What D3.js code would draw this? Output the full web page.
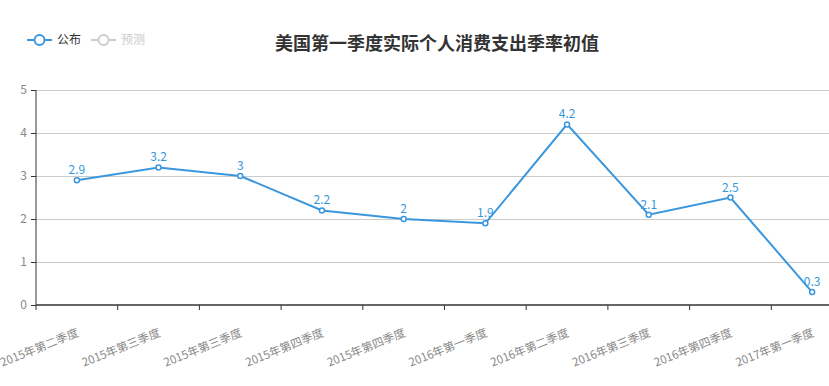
<!DOCTYPE html>
<html><head><meta charset="utf-8">
<script src="https://cdn.jsdelivr.net/npm/d3@7"></script>
<style>body{margin:0;background:#fff;overflow:hidden}svg{display:block}</style>
</head><body>
<script>
const categories = ["2015年第二季度","2015年第三季度","2015年第三季度","2015年第四季度","2015年第四季度","2016年第一季度","2016年第二季度","2016年第三季度","2016年第四季度","2017年第一季度"];
const published = [2.9, 3.2, 3, 2.2, 2, 1.9, 4.2, 2.1, 2.5, 0.3];
const yTicks = [0, 1, 2, 3, 4, 5];
const titleText = "美国第一季度实际个人消费支出季率初值";
const legendItems = ["公布", "预测"];

const W = 829, H = 386;
const font = "'Noto Sans CJK SC', 'Microsoft YaHei', sans-serif";
const blue = "#3398DB", lineBlue = "#3a97de";
const svg = d3.select("body").append("svg").attr("width", W).attr("height", H);

const x = d3.scaleBand().domain(d3.range(categories.length)).range([36, 853]);
const y = d3.scaleLinear().domain([0, 5]).range([305, 90]);

// grid
svg.append("g").selectAll("line").data(yTicks.filter(d => d > 0)).join("line")
  .attr("x1", 36).attr("x2", W).attr("y1", d => y(d)).attr("y2", d => y(d))
  .attr("stroke", "#ccc").attr("stroke-width", 1).attr("shape-rendering", "crispEdges");

// y axis
const ya = svg.append("g").attr("transform", "translate(36,0)")
  .call(d3.axisLeft(y).tickValues(yTicks).tickSize(5).tickPadding(4).tickFormat(d3.format("d")));
ya.select(".domain").attr("stroke", "#333").attr("d", `M-0,${y(0)}V${y(5)}`);
ya.selectAll(".tick line").attr("stroke", "#333");
ya.selectAll("text").attr("fill", "#888").style("font-size", "12px").style("font-family", font);

// x axis
const xa = svg.append("g").attr("transform", `translate(0,${y(0)})`);
xa.append("line").attr("x1", 36).attr("x2", W).attr("y1", 0).attr("y2", 0)
  .attr("stroke", "#333").attr("stroke-width", 1.5);
xa.selectAll("line.tk").data(d3.range(categories.length)).join("line").attr("class", "tk")
  .attr("x1", d => x(d)).attr("x2", d => x(d)).attr("y1", 0).attr("y2", 5)
  .attr("stroke", "#333");
xa.selectAll("text").data(categories).join("text")
  .attr("transform", (d, i) => `translate(${x(i) + x.bandwidth() / 2 + 1},${27}) rotate(-22)`)
  .attr("text-anchor", "end").attr("dy", "0.35em")
  .attr("fill", "#888").style("font-size", "11.5px").style("font-family", font)
  .text(d => d);

// line
const line = d3.line().x((d, i) => x(i) + x.bandwidth() / 2).y(d => y(d));
svg.append("path").datum(published).attr("d", line)
  .attr("fill", "none").attr("stroke", lineBlue).attr("stroke-width", 2);
svg.append("g").selectAll("circle").data(published).join("circle")
  .attr("cx", (d, i) => x(i) + x.bandwidth() / 2).attr("cy", d => y(d)).attr("r", 2.5)
  .attr("fill", "#fff").attr("stroke", lineBlue).attr("stroke-width", 1.5);
svg.append("g").selectAll("text").data(published).join("text")
  .attr("x", (d, i) => x(i) + x.bandwidth() / 2).attr("y", d => y(d) - 6)
  .attr("text-anchor", "middle").attr("fill", blue)
  .style("font-size", "12px").style("font-family", font)
  .text(d => d);

// title
svg.append("text").attr("x", 437).attr("y", 50).attr("text-anchor", "middle")
  .attr("fill", "#333").style("font-size", "18px").style("font-weight", "bold").style("font-family", font)
  .text(titleText);

// legend
const lg = svg.append("g");
const legendColors = [lineBlue, "#ccc"];
const legendText = ["#333", "#ccc"];
legendItems.forEach((t, i) => {
  const ox = 27 + i * 64;
  const g = lg.append("g").attr("transform", `translate(${ox},40)`);
  g.append("line").attr("x1", 0).attr("x2", 25).attr("y1", 0).attr("y2", 0)
    .attr("stroke", legendColors[i]).attr("stroke-width", 2);
  g.append("circle").attr("cx", 12.5).attr("cy", 0).attr("r", 5)
    .attr("fill", "#fff").attr("stroke", legendColors[i]).attr("stroke-width", 2);
  g.append("text").attr("x", 30).attr("y", 0).attr("dy", "0.35em")
    .attr("fill", legendText[i]).style("font-size", "12px").style("font-family", font).text(t);
});
</script>
</body></html>
